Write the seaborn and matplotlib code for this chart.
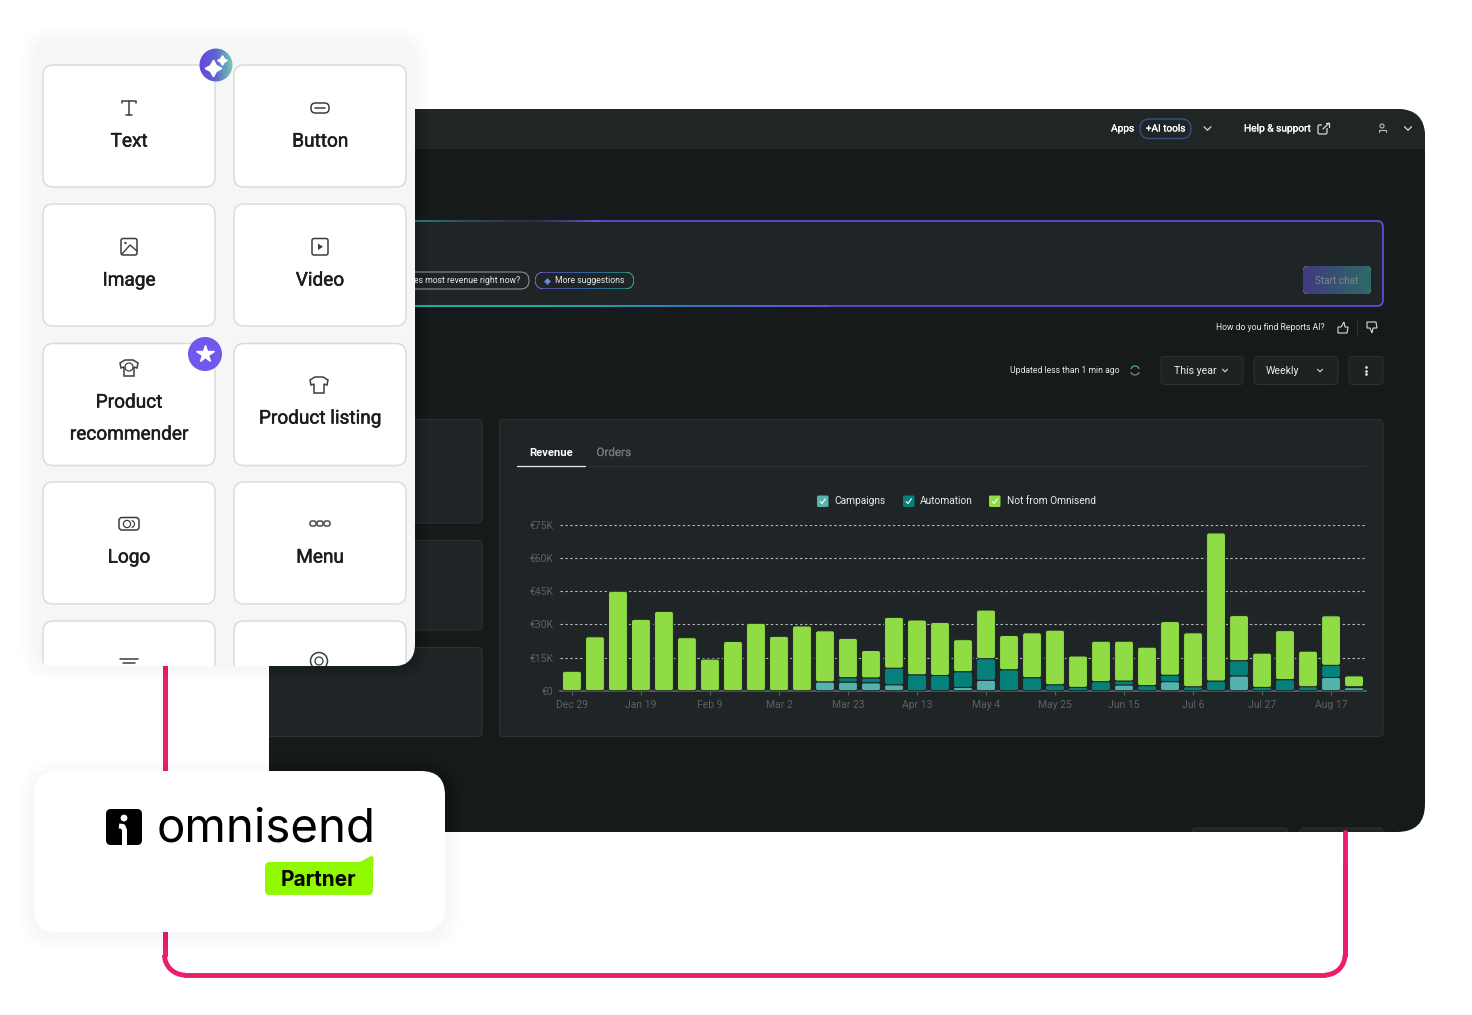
import numpy as np
import pandas as pd
import seaborn as sns
import matplotlib.pyplot as plt
import matplotlib.patheffects as pe
from matplotlib.collections import LineCollection
from matplotlib.colors import LinearSegmentedColormap
from matplotlib.patches import Arc, Circle, FancyBboxPatch, Polygon, Rectangle

# chart data, thousands of euro per week
weeks = ["Dec 29", "Jan 5", "Jan 12", "Jan 19", "Jan 26", "Feb 2", "Feb 9", "Feb 16", "Feb 23",
         "Mar 2", "Mar 9", "Mar 16", "Mar 23", "Mar 30", "Apr 6", "Apr 13", "Apr 20", "Apr 27",
         "May 4", "May 11", "May 18", "May 25", "Jun 1", "Jun 8", "Jun 15", "Jun 22", "Jun 29",
         "Jul 6", "Jul 13", "Jul 20", "Jul 27", "Aug 3", "Aug 10", "Aug 17", "Aug 24"]
campaigns = [0, 0, 0, 0, 0, 0, 0, 0, 0, 0, 0, 4, 3.9, 3.6, 2.7, 0, 0, 1.5, 4.7, 0, 0, 0, 0, 0,
             2.6, 0, 4.1, 0, 0, 6.7, 0, 0, 0, 6, 1.4]
automation = [0, 0, 0, 0, 0, 0, 0, 0, 0, 0, 0, 0, 2, 2.2, 7.5, 7.2, 6.9, 7.1, 9.8, 9.5, 5.9, 2.7,
              1.5, 4.1, 1.8, 2.3, 2.9, 1.8, 4.4, 6.9, 1.5, 5, 1.8, 5.5, 0.4]
not_omnisend = [8.8, 24.4, 45, 32.3, 35.9, 24, 14.3, 22.3, 30.5, 24.6, 29.3, 23.1, 17.8, 12.4, 23,
                24.8, 24, 14.5, 22, 15.5, 20.3, 24.7, 14.2, 18.3, 18, 17.4, 24.3, 24.4, 67, 20.4,
                15.5, 22.2, 16.1, 22.4, 4.9]
y_ticks = [0, 15, 30, 45, 60, 75]
y_labels = ["€0", "€15K", "€30K", "€45K", "€60K", "€75K"]
legend_names = ["Campaigns", "Automation", "Not from Omnisend"]
blocks = ["Text", "Button", "Image", "Video", "Product\nrecommender", "Product listing", "Logo", "Menu"]

PANEL = "#161a19"
CARD = "#1f2526"
EDGE = "#2b3232"
GREEN = "#8fdc44"
TEAL = "#06807a"
LIGHT_TEAL = "#54b3ae"
PINK = "#ec1c6e"
MUTED = "#5c6261"

sns.set_theme(style="dark")
plt.rcParams["font.family"] = ["Roboto", "DejaVu Sans"]

W, H = 1472, 1015
fig = plt.figure(figsize=(W / 100, H / 100), dpi=100, facecolor="white")


def pixel_axes(z):
    a = fig.add_axes([0, 0, 1, 1], zorder=z)
    a.set_xlim(0, W)
    a.set_ylim(H, 0)
    a.axis("off")
    a.patch.set_alpha(0)
    return a


def rbox(a, x0, y0, x1, y1, r, fc="none", ec="none", lw=1, z=2, alpha=None):
    p = FancyBboxPatch((x0 + r, y0 + r), x1 - x0 - 2 * r, y1 - y0 - 2 * r,
                       boxstyle=f"round,pad={r},rounding_size={r}", fc=fc, ec=ec, lw=lw,
                       zorder=z, alpha=alpha)
    a.add_patch(p)
    return p


def shadow(a, x0, y0, x1, y1, r, z=1, spread=16, dy=4):
    for i in range(spread, 0, -2):
        rbox(a, x0 - i, y0 - i + dy, x1 + i, y1 + i + dy, r + i, fc="black", z=z, alpha=0.005)


def gradient(a, x0, y0, x1, y1, colors, clip, z=3):
    cmap = LinearSegmentedColormap.from_list("g", colors)
    im = a.imshow(np.linspace(0, 1, 200)[None, :], extent=(x0, x1, y1, y0), cmap=cmap,
                  aspect="auto", zorder=z)
    im.set_clip_path(clip)
    a.set_xlim(0, W)
    a.set_ylim(H, 0)
    return im


def grad_line(a, x0, x1, y, colors, lw=1.3, z=5):
    cmap = LinearSegmentedColormap.from_list("g", colors)
    xs = np.linspace(x0, x1, 120)
    segs = [[(xs[i], y), (xs[i + 1], y)] for i in range(len(xs) - 1)]
    a.add_collection(LineCollection(segs, colors=cmap(np.linspace(0, 1, len(segs))), lw=lw, zorder=z))


def chevron(a, x, y, s=3.5, color="#d8dcdb", lw=0.9):
    a.plot([x - s, x, x + s], [y - s / 2, y + s / 2, y - s / 2], color=color, lw=lw, zorder=6)


def label(a, x, y, s, size=6.4, color="#e8ebea", ha="left", weight="normal", z=6, family=None):
    # Roboto has no usable medium cut here, a thin outline gets the same look
    t = a.text(x, y, s, fontsize=size, color=color, ha=ha, va="center", zorder=z,
               fontweight="normal" if weight == "medium" else weight)
    if family:
        t.set_family(family)
    if weight == "medium":
        t.set_path_effects([pe.withStroke(linewidth=0.35 if size > 10 else 0.15, foreground=color)])
    return t


back = pixel_axes(0)
front = pixel_axes(3)

# pink connector behind everything
back.plot([164.5, 164.5], [640, 955], color=PINK, lw=3.5, zorder=1)
back.plot([1345, 1345], [820, 955], color=PINK, lw=3.5, zorder=1)
back.plot([185, 1325], [975, 975], color=PINK, lw=3.5, zorder=1)
back.add_patch(Arc((185, 955), 41, 40, theta1=90, theta2=180, color=PINK, lw=3.5, zorder=1))
back.add_patch(Arc((1325, 955), 40, 40, theta1=0, theta2=90, color=PINK, lw=3.5, zorder=1))

# dark dashboard panel
rbox(back, 269, 109, 1425, 832, 28, fc=PANEL, z=2)
header = rbox(back, 269, 109, 1425, 200, 28, fc="#1f2625", z=2)
back.add_patch(Rectangle((269, 149), 1156, 60, fc=PANEL, ec="none", zorder=2))

label(back, 1111, 128.5, "Apps", 7.3, "white", weight="medium")
pill = rbox(back, 1140, 119, 1191, 138.5, 9.5, fc="#1f2625", ec="#3a4f86", lw=1, z=3)
label(back, 1165.5, 128.5, "+AI tools", 7.2, "white", "center", "medium")
chevron(back, 1207.5, 128.5)
label(back, 1244, 128.5, "Help & support", 7.3, "white", weight="medium")
rbox(back, 1318, 125, 1327, 134, 1.5, ec="#d8dcdb", lw=0.9, z=3)
back.add_patch(Rectangle((1322, 122), 8, 6, fc="#1f2625", ec="none", zorder=3.5))
back.plot([1323, 1329], [129, 123], color="#d8dcdb", lw=0.9, zorder=4)
back.plot([1325.5, 1329, 1329], [123, 123, 126.5], color="#d8dcdb", lw=0.9, zorder=4)
back.add_patch(Circle((1382, 126), 2, fc="none", ec="#b8bcbb", lw=0.8, zorder=3))
back.plot([1378.5, 1378.5, 1385.5, 1385.5], [132, 130, 130, 132], color="#b8bcbb", lw=0.8, zorder=3)
chevron(back, 1408, 128.5)

# AI prompt box
for i in range(10, 0, -2):
    rbox(back, 405 - i, 221 - i, 1383 + i, 306 + i, 6 + i, fc="#6a4fd0", z=2, alpha=0.012)
rbox(back, 405, 221, 1383, 306, 6, fc=CARD, ec="#6a4fd6", lw=1.2, z=3)
grad_line(back, 405, 600, 221, ["#1e8a78", "#2c4a42", "#262b2a", "#6a4fd6"])
grad_line(back, 405, 830, 306, ["#17b99c", "#17b99c", "#2f7fc0", "#6a4fd6"])
label(back, 414, 280.5, "es most revenue right now?", 6.2, "#e8ebea")
rbox(back, 380, 272, 529, 289, 8.5, ec="#8a8f8e", lw=0.8, z=3)
border = rbox(back, 535, 272, 634, 289, 8.5, fc="white", z=3)
gradient(back, 535, 272, 634, 289, ["#6a4fd6", "#3a70c0", "#1aa08c"], border, z=3)
rbox(back, 535.8, 272.8, 633.2, 288.2, 7.7, fc=CARD, z=4)
back.plot([547], [280.5], marker=(4, 1, 0), ms=4, color="#6a8fe0", zorder=5)
label(back, 555, 280.5, "More suggestions", 6.2, "#e8ebea")
btn = rbox(back, 1303, 266, 1371, 294, 5, fc="white", z=3)
gradient(back, 1303, 266, 1371, 294, ["#3f3a80", "#2d6a66"], btn, z=3)
label(back, 1337, 280.5, "Start chat", 7.2, "#79858a", "center", z=5)

label(back, 1325, 327.5, "How do you find Reports AI?", 6.2, "#e8ebea", "right")
back.add_patch(Polygon([(1338, 327), (1341, 327), (1344, 322), (1345, 327), (1348, 327), (1347, 333), (1338, 333)],
                       fc="none", ec="#d8dcdb", lw=0.8, zorder=4))
back.plot([1357, 1357], [320, 335], color=EDGE, lw=0.8, zorder=4)
back.add_patch(Polygon([(1367, 328), (1370, 328), (1372, 333), (1373, 328), (1377, 328), (1376, 322), (1367, 322)],
                       fc="none", ec="#d8dcdb", lw=0.8, zorder=4))

label(back, 1120, 370.5, "Updated less than 1 min ago", 6.2, "#e8ebea", "right")
back.add_patch(Arc((1135, 370.5), 9, 9, theta1=200, theta2=340, color="#4aa898", lw=0.9, zorder=4))
back.add_patch(Arc((1135, 370.5), 9, 9, theta1=20, theta2=160, color="#7a8a88", lw=0.9, zorder=4))
rbox(back, 1161, 356.5, 1243, 384.5, 4, fc="#1d2323", ec=EDGE, lw=0.8, z=3)
label(back, 1174, 370.5, "This year", 7.6, "#eceeee")
chevron(back, 1225, 370.5, 2.5, lw=0.8)
rbox(back, 1254, 356.5, 1338, 384.5, 4, fc="#1d2323", ec=EDGE, lw=0.8, z=3)
label(back, 1266, 370.5, "Weekly", 7.6, "#eceeee")
chevron(back, 1320, 370.5, 2.5, lw=0.8)
rbox(back, 1349, 356.5, 1383, 384.5, 4, fc="#1d2323", ec=EDGE, lw=0.8, z=3)
back.plot([1366, 1366, 1366], [367, 370.5, 374], ls="none", marker="o", ms=1, color="#d8dcdb", zorder=4)

# stat cards and chart card
for y0, y1 in [(419.5, 523), (540.5, 630), (647.5, 736.5)]:
    rbox(back, 255, y0, 482, y1, 4, fc=CARD, ec=EDGE, lw=0.8, z=3)
back.add_patch(Rectangle((240, 600), 29, 240, fc="white", ec="none", zorder=3))
back.plot([164.5, 164.5], [640, 955], color=PINK, lw=3.5, zorder=4)
rbox(back, 499.5, 419.5, 1383, 736.5, 4, fc=CARD, ec=EDGE, lw=0.8, z=3)
rbox(back, 1192, 828, 1288, 860, 4, fc=CARD, ec=EDGE, lw=0.8, z=3)
rbox(back, 1300, 828, 1383, 860, 4, fc=CARD, ec=EDGE, lw=0.8, z=3)
back.add_patch(Rectangle((1180, 832), 215, 30, fc="white", ec="none", zorder=4))
back.plot([1345, 1345], [832, 955], color=PINK, lw=3.5, zorder=5)

label(back, 551, 452.5, "Revenue", 8.1, "white", "center", "bold")
label(back, 613.5, 452.5, "Orders", 8.4, "#71777a", "center", "medium")
back.plot([517, 1365], [465.5, 465.5], color=EDGE, lw=0.9, zorder=4)
back.plot([517, 585], [465.5, 465.5], color="#e8ebea", lw=0.9, zorder=5)

for (bx, tx), name, col in zip([(817, 834), (903, 920), (989, 1007)], legend_names,
                               [LIGHT_TEAL, TEAL, GREEN]):
    rbox(back, bx, 495.5, bx + 11.5, 507, 1.5, fc=col, z=4)
    back.plot([bx + 3.2, bx + 5, bx + 8.4], [501.5, 503.5, 498.8], color="white", lw=0.8, zorder=5)
    label(back, tx, 501.5, name, 7.3, "#e8ebea")

# the chart itself
df = pd.DataFrame({"week": weeks, "campaigns": campaigns, "automation": automation,
                   "not_omnisend": not_omnisend})
ax = fig.add_axes([560 / W, 1 - 690.7 / H, 806 / W, 165.7 / H], zorder=1)
ax.set_facecolor("none")
sns.barplot(df, x="week", y="campaigns", color=LIGHT_TEAL, saturation=1, width=0.82, errorbar=None, ax=ax)
sns.barplot(df, x="week", y="automation", bottom=df["campaigns"], color=TEAL, saturation=1, width=0.82,
            errorbar=None, ax=ax)
sns.barplot(df, x="week", y="not_omnisend", bottom=df["campaigns"] + df["automation"], color=GREEN,
            saturation=1, width=0.82, errorbar=None, ax=ax)
ax.set_xlim(-0.52, 34.52)
ax.set_ylim(0, 75)

# swap the square seaborn bars for rounded ones of the same size
aspect = (23 / (165.7 / 75))
for bar in list(ax.patches):
    x, y, w, h = bar.get_x(), bar.get_y(), bar.get_width(), bar.get_height()
    col = bar.get_facecolor()
    bar.remove()
    if h <= 0:
        continue
    r = min(0.1, h / 2 / aspect)
    ax.add_patch(FancyBboxPatch((x + r, y + r * aspect), w - 2 * r, h - 2 * r * aspect,
                                boxstyle=f"round,pad={r},rounding_size={r}", mutation_aspect=aspect,
                                fc=col, ec=CARD, lw=0.7, zorder=3, clip_on=False))

ax.set_yticks(y_ticks, y_labels)
ax.set_xticks(range(0, len(weeks), 3), weeks[::3])
ax.set_xlabel("")
ax.set_ylabel("")
ax.tick_params(axis="y", length=0, pad=5, labelsize=7.5, labelcolor=MUTED)
ax.tick_params(axis="x", length=3, width=0.8, color=MUTED, pad=4, labelsize=7.5, labelcolor=MUTED, bottom=True)
ax.grid(axis="y", color="#b4b9b8", ls=(0, (2.2, 2.2)), lw=0.8)
ax.grid(axis="x", visible=False)
ax.set_axisbelow(True)
for name, spine in ax.spines.items():
    spine.set_visible(name == "bottom")
ax.spines["bottom"].set_color(MUTED)

# block picker card on the left
shadow(front, 34, 37, 415, 666, 22, spread=14, dy=2)
sheet = rbox(front, 34, 37, 415, 666, 22, fc="#f5f7f7", z=2)
ICON = "#3a3f3e"
col_x = [(43, 215), (234, 406)]
row_y = [65, 204, 343.5, 482, 621]
for r, y0 in enumerate(row_y):
    for x0, x1 in col_x:
        p = rbox(front, x0, y0, x1, y0 + 122, 10, fc="white", ec="#d9dcdb", lw=1.1, z=3)
        p.set_clip_path(sheet)

cx = [129, 320]
T = dict(ha="center", size=13.7, color="#1a1f1e", weight="medium")
label(front, cx[0], 141.6, blocks[0], **T)
label(front, cx[1], 141.6, blocks[1], **T)
label(front, cx[0], 280.6, blocks[2], **T)
label(front, cx[1], 280.6, blocks[3], **T)
label(front, cx[0], 402.6, "Product", **T)
label(front, cx[0], 434.6, "recommender", **T)
label(front, cx[1], 418.6, blocks[5], **T)
label(front, cx[0], 557.6, blocks[6], **T)
label(front, cx[1], 557.6, blocks[7], **T)

# T icon
front.plot([122, 122, 136, 136], [103, 101, 101, 103], color=ICON, lw=1.1, zorder=6)
front.plot([129, 129], [101, 115], color=ICON, lw=1.1, zorder=6)
front.plot([126, 132], [115, 115], color=ICON, lw=1.1, zorder=6)
# button icon
rbox(front, 311, 103, 329, 113, 4.5, ec=ICON, lw=1.1, z=6)
front.plot([315, 325], [108, 108], color=ICON, lw=1.1, zorder=6)
# image icon
rbox(front, 121, 238.5, 137, 255, 2, ec=ICON, lw=1.1, z=6)
front.add_patch(Circle((125.5, 243), 1.2, fc=ICON, ec="none", zorder=6))
front.plot([122, 130, 137], [254, 245, 251], color=ICON, lw=1, zorder=6)
# video icon
rbox(front, 312, 238.5, 328, 255, 2, ec=ICON, lw=1.1, z=6)
front.add_patch(Polygon([(318, 243.5), (318, 250), (323, 246.8)], fc=ICON, ec="none", zorder=6))
# shirts
shirt = np.array([(-4, -8), (4, -8), (9, -5), (8, 0), (5, -1), (5, 8), (-5, 8), (-5, -1), (-8, 0), (-9, -5)])
front.add_patch(Polygon(shirt + [129, 368], fc="none", ec=ICON, lw=1.1, zorder=6))
front.add_patch(Circle((129, 367), 4, fc="none", ec=ICON, lw=0.9, zorder=6))
front.add_patch(Polygon(shirt + [319, 385], fc="none", ec=ICON, lw=1.1, zorder=6))
# logo icon
rbox(front, 119, 517.5, 139, 530, 3, ec=ICON, lw=1.1, z=6)
front.add_patch(Circle((127, 524), 3.6, fc="none", ec=ICON, lw=0.9, zorder=6))
front.add_patch(Arc((131, 524), 7, 7, theta1=-80, theta2=80, color=ICON, lw=0.9, zorder=6))
# menu icon
for mx in [313, 320, 327]:
    rbox(front, mx - 3, 521, mx + 3, 526, 2, ec=ICON, lw=1, z=6)
# cut-off icons in the last row
for yy, xa, xb in [(659, 120, 138), (663, 123, 135)]:
    line = front.plot([xa, xb], [yy, yy], color=ICON, lw=1.1, zorder=6)[0]
    line.set_clip_path(sheet)
c = Circle((319, 661), 8.5, fc="none", ec=ICON, lw=1.1, zorder=6)
front.add_patch(c)
c.set_clip_path(sheet)
c = Circle((319, 661), 4, fc="none", ec=ICON, lw=0.9, zorder=6)
front.add_patch(c)
c.set_clip_path(sheet)

# badges on the card
disc = Circle((216, 65), 16.5, fc="white", ec="none", zorder=6)
front.add_patch(disc)
gradient(front, 199, 48, 233, 82, ["#6a44dc", "#5d64d0", "#74cfb0"], disc, z=6)
front.plot([213], [68], marker=(4, 1, 0), ms=12, color="white", mec="white", zorder=7)
front.plot([222], [59.5], marker=(4, 1, 0), ms=7, color="white", mec="white", zorder=7)
front.add_patch(Circle((205, 354), 17, fc="#7058ee", ec="none", zorder=6))
front.plot([205], [354], marker="*", ms=13, color="white", mec="white", zorder=7)

# partner card
shadow(front, 34, 771, 445, 932, 24, spread=16, dy=4)
rbox(front, 34, 771, 445, 932, 24, fc="white", z=2)
rbox(front, 106, 809, 142, 845, 5, fc="black", z=4)
front.add_patch(Circle((124, 818), 3.4, fc="white", ec="none", zorder=5))
front.plot([119, 123, 124.5, 124.5], [826, 826.5, 830, 845], color="white", lw=3.6, zorder=5,
           solid_capstyle="butt")
label(front, 157, 830, "omnisend", 34.2, "black", z=5, family=["Inter", "DejaVu Sans"])
rbox(front, 265, 862, 373, 895, 5, fc="#90f800", z=4)
front.add_patch(Polygon([(358, 863), (371, 856), (373.5, 857), (373.5, 866)], fc="#90f800", ec="none", zorder=4))
label(front, 318, 880.5, "Partner", 15, "black", "center", "bold", z=5, family=["Inter", "DejaVu Sans"])

fig.savefig("out.png", dpi=100, facecolor="white")
